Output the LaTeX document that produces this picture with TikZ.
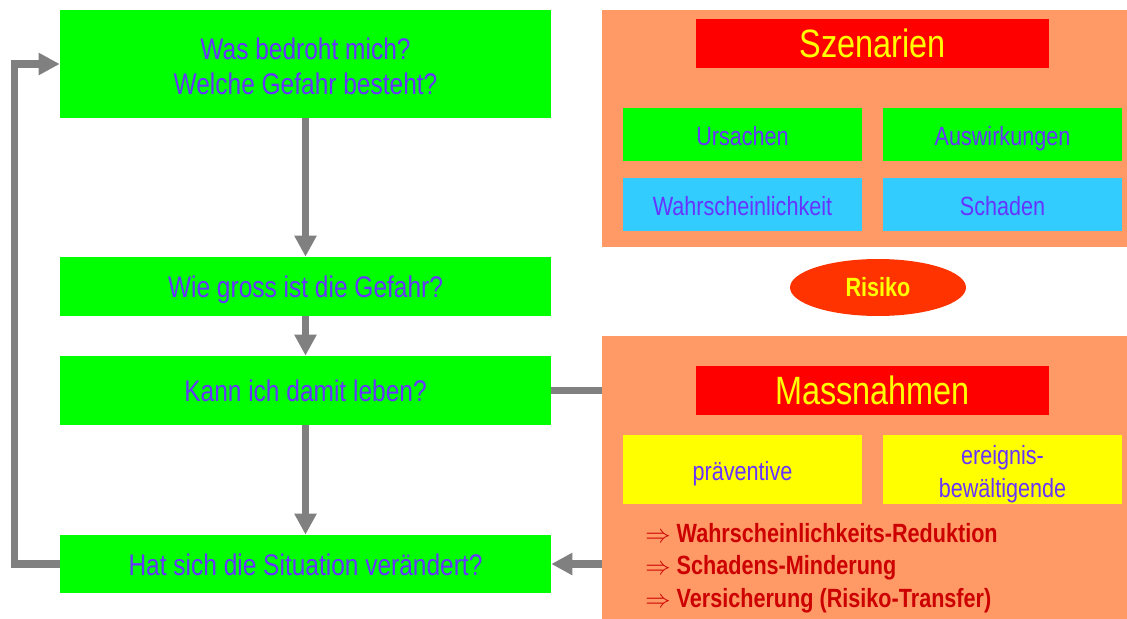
\documentclass[tikz,border=0pt]{standalone}
\usepackage{fontspec}
\setmainfont[FakeStretch=0.82]{Liberation Sans}
\usepackage{tikz}
\usetikzlibrary{arrows.meta,shapes.geometric}
\definecolor{boxgreen}{HTML}{00FF00}
\definecolor{boxcyan}{HTML}{33CCFF}
\definecolor{boxyellow}{HTML}{FFFF00}
\definecolor{panel}{HTML}{FF9966}
\definecolor{titlered}{HTML}{FF0000}
\definecolor{risk}{HTML}{FF3300}
\definecolor{txtblue}{HTML}{6633FF}
\definecolor{txtred}{HTML}{CC0000}
\definecolor{arrowgray}{HTML}{808080}
\tikzset{
  question/.style={fill=boxgreen, text=txtblue, minimum width=9.82cm, align=center,
    inner sep=0pt, font=\fontsize{17}{19.8}\selectfont},
  oneline/.style={text height=16pt, text depth=3pt},
  panelbox/.style={fill=panel, minimum width=10.5cm, inner sep=0pt},
  titlebox/.style={fill=titlered, text=boxyellow, minimum width=7.06cm, minimum height=0.98cm,
    inner sep=0pt, font=\fontsize{22.5}{26}\selectfont},
  cell/.style={minimum width=4.78cm, minimum height=1.06cm, text=txtblue, align=center,
    inner sep=0pt, font=\fontsize{15}{19}\selectfont},
  itembox/.style={cell, text height=15pt, text depth=3pt}
}
\begin{document}
\begin{tikzpicture}[x=0.02cm,y=-0.02cm,
  flow/.style={draw=arrowgray, line width=4pt, -{Triangle[width=12pt,length=12pt]}},
  link/.style={draw=arrowgray, line width=4pt}]
\useasboundingbox (0,0) rectangle (1127,619);
% Fragen links
\node[question, minimum height=2.16cm] (q1) at (305.5,64) {\rule{0pt}{15pt}Was bedroht mich?\\Welche Gefahr besteht?};
\node[question, oneline, minimum height=1.18cm] (q2) at (305.5,286.5) {Wie gross ist die Gefahr?};
\node[question, oneline, minimum height=1.38cm] (q3) at (305.5,390.5) {Kann ich damit leben?};
\node[question, oneline, minimum height=1.16cm] (q4) at (305.5,564) {Hat sich die Situation ver\"andert?};
% Szenarien
\node[panelbox, minimum height=4.74cm] (szen) at (864.5,128.5) {};
\node[titlebox] (szentitle) at (872.5,43.5) {Szenarien};
\node[itembox, fill=boxgreen] (urs) at (742.5,134.5) {Ursachen};
\node[itembox, fill=boxgreen] (ausw) at (1002.5,134.5) {Auswirkungen};
\node[itembox, fill=boxcyan] (wahr) at (742.5,204.5) {Wahrscheinlichkeit};
\node[itembox, fill=boxcyan] (schad) at (1002.5,204.5) {Schaden};
\node[ellipse, fill=risk, text=boxyellow, minimum width=3.52cm, minimum height=1.14cm,
  inner sep=0pt, font=\bfseries\fontsize{15}{18}\selectfont] (risiko) at (878,287.5) {Risiko};
% Massnahmen
\node[panelbox, minimum height=5.66cm] (mass) at (864.5,477.5) {};
\node[titlebox] (masstitle) at (872.5,390.5) {Massnahmen};
\node[itembox, fill=boxyellow, minimum height=1.38cm] (prav) at (742.5,469.5) {pr\"aventive};
\node[cell, fill=boxyellow, minimum height=1.38cm] (ereig) at (1002.5,469.5) {\rule{0pt}{16pt}ereignis-\\bew\"altigende};
\node[anchor=west, text=txtred, align=left, inner sep=0pt,
  font=\bfseries\fontsize{15}{18.5}\selectfont] (ziele) at (645,568)
  {$\Rightarrow$ Wahrscheinlichkeits-Reduktion\\$\Rightarrow$ Schadens-Minderung\\$\Rightarrow$ Versicherung (Risiko-Transfer)};
% Pfeile
\draw[flow] (q1) -- (q2);
\draw[flow] (q2) -- (q3);
\draw[flow] (q3) -- (q4);
\draw[flow] (q4.west) -- ++(-45,0) |- (q1.west);
\draw[link] (q3.east) -- (q3.east -| mass.west);
\draw[flow] (q4.east -| mass.west) -- (q4.east);
\end{tikzpicture}
\end{document}
